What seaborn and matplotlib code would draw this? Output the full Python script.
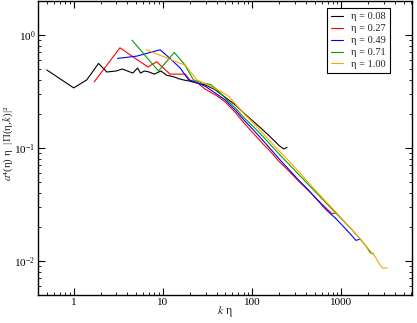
import numpy as np
import pandas as pd
import matplotlib
matplotlib.use("Agg")
import matplotlib.pyplot as plt
import seaborn as sns
from matplotlib.ticker import LogLocator, NullFormatter

# ---------------- data ----------------
eta_labels = ["η = 0.08", "η = 0.27", "η = 0.49", "η = 0.71", "η = 1.00"]
colors = ["#000000", "#ff0000", "#0000ff", "#00a000", "#ffa500"]

k_008 = [0.5, 1.0, 1.4, 1.9, 2.35, 3.0, 3.5, 4.0, 4.6, 5.2, 5.6, 6.2, 7.0, 8.0, 9.5,
         11, 12.5, 14, 15, 17, 20, 24, 30, 38, 50, 65, 80, 100, 125, 160, 200, 225, 245]
v_008 = [0.49, 0.34, 0.40, 0.56, 0.47, 0.48, 0.50, 0.48, 0.46, 0.51, 0.46, 0.48, 0.47, 0.45, 0.48,
         0.44, 0.43, 0.42, 0.41, 0.40, 0.39, 0.375, 0.36, 0.33, 0.28, 0.24, 0.205, 0.175, 0.15,
         0.125, 0.105, 0.098, 0.101]

k_027 = [1.7, 3.3, 4.5, 6.8, 8.5, 12, 17.8, 20, 25, 30, 40, 50, 65, 80, 100, 130, 160, 200,
         260, 330, 400, 500, 600, 700, 780, 850]
v_027 = [0.385, 0.77, 0.65, 0.52, 0.58, 0.45, 0.45, 0.40, 0.37, 0.33, 0.29, 0.255, 0.205,
         0.168, 0.138, 0.11, 0.093, 0.076, 0.062, 0.051, 0.044, 0.037, 0.032, 0.0285, 0.0262, 0.0265]

k_049 = [3.1, 5.1, 9.3, 12, 15.6, 19.4, 24, 30, 40, 50, 65, 80, 100, 130, 160, 206, 260, 330,
         420, 530, 670, 850, 1050, 1300, 1450, 1590]
v_049 = [0.62, 0.65, 0.74, 0.62, 0.51, 0.40, 0.38, 0.35, 0.30, 0.265, 0.215, 0.178, 0.148,
         0.118, 0.098, 0.078, 0.064, 0.052, 0.043, 0.035, 0.0285, 0.024, 0.0202, 0.0168, 0.0152, 0.0155]

k_071 = [4.5, 8.9, 13.4, 17.4, 22, 28, 34, 40, 50, 65, 80, 100, 130, 160, 206, 260, 330, 420,
         530, 670, 850, 1050, 1300, 1600, 1900, 2100, 2280]
v_071 = [0.90, 0.48, 0.70, 0.55, 0.40, 0.375, 0.365, 0.33, 0.275, 0.225, 0.187, 0.158, 0.128,
         0.107, 0.086, 0.0712, 0.0585, 0.048, 0.0396, 0.0327, 0.0269, 0.0226, 0.019, 0.0158,
         0.0134, 0.0118, 0.0116]

k_100 = [6.5, 10, 14, 17.8, 24, 30, 38, 45, 55, 65, 80, 100, 130, 160, 206, 260, 330, 420, 530,
         670, 850, 1050, 1300, 1600, 2000, 2400, 2700, 2900, 3230]
v_100 = [0.74, 0.645, 0.58, 0.54, 0.40, 0.37, 0.335, 0.315, 0.285, 0.245, 0.203, 0.17, 0.136,
         0.114, 0.092, 0.076, 0.062, 0.050, 0.041, 0.0335, 0.0275, 0.0228, 0.019, 0.0158, 0.0128,
         0.0108, 0.0092, 0.0086, 0.0087]

series_k = [k_008, k_027, k_049, k_071, k_100]
series_v = [v_008, v_027, v_049, v_071, v_100]

frames = []
for lab, ks, vs in zip(eta_labels, series_k, series_v):
    frames.append(pd.DataFrame({"k": ks, "v": vs, "eta": lab}))
df = pd.concat(frames, ignore_index=True)

# ---------------- style ----------------
sns.set_style("ticks")
plt.rcParams["font.family"] = ["Liberation Serif", "DejaVu Serif"]
plt.rcParams["mathtext.fontset"] = "stix"
plt.rcParams["axes.linewidth"] = 1.0

fig = plt.figure(figsize=(4.17, 3.23), dpi=100)
ax = fig.add_axes([0.0915, 0.087, 0.897, 0.910])

sns.lineplot(data=df, x="k", y="v", hue="eta", hue_order=eta_labels,
             palette=dict(zip(eta_labels, colors)), estimator=None, sort=True,
             linewidth=0.8, ax=ax, legend=True)

ax.set_xscale("log")
ax.set_yscale("log")
ax.set_xlim(0.4, 6200)
ax.set_ylim(0.005, 2.0)

ax.xaxis.set_major_locator(LogLocator(base=10, numticks=10))
ax.xaxis.set_minor_locator(LogLocator(base=10, subs=np.arange(2, 10), numticks=20))
ax.yaxis.set_major_locator(LogLocator(base=10, numticks=10))
ax.yaxis.set_minor_locator(LogLocator(base=10, subs=np.arange(2, 10), numticks=20))
ax.xaxis.set_minor_formatter(NullFormatter())
ax.yaxis.set_minor_formatter(NullFormatter())
ax.set_xticks([1, 10, 100, 1000])
ax.set_xticklabels(["1", "10", "100", "1000"])

ax.tick_params(which="both", direction="in", top=True, right=True, labelsize=8, colors="black")
ax.tick_params(which="major", length=5, width=0.8, pad=2.5)
ax.tick_params(axis="y", which="major", pad=2.0)
ax.tick_params(which="minor", length=2.5, width=0.6)
for s in ax.spines.values():
    s.set_visible(True)
    s.set_color("black")

ax.set_xlabel("$k$ η", fontsize=8.5)
ax.set_ylabel("$a$⁴(η) η  |Π(η,$k$)|²", fontsize=8)
ax.xaxis.set_label_coords(0.50, -0.058)
ax.yaxis.set_label_coords(-0.080, 0.515)
ax.xaxis.label.set_va("center")
ax.yaxis.label.set_va("center")

handles, labels = ax.get_legend_handles_labels()
leg = ax.legend(handles, labels, loc="upper right", bbox_to_anchor=(0.94, 0.976),
                fontsize=7.5, frameon=True, fancybox=False, framealpha=1,
                edgecolor="black", handlelength=1.2, handletextpad=0.7,
                borderpad=0.4, labelspacing=0.25, borderaxespad=0)
leg.get_frame().set_linewidth(0.8)
for h in leg.get_lines():
    h.set_linewidth(0.8)

fig.savefig("out.png", dpi=100)
